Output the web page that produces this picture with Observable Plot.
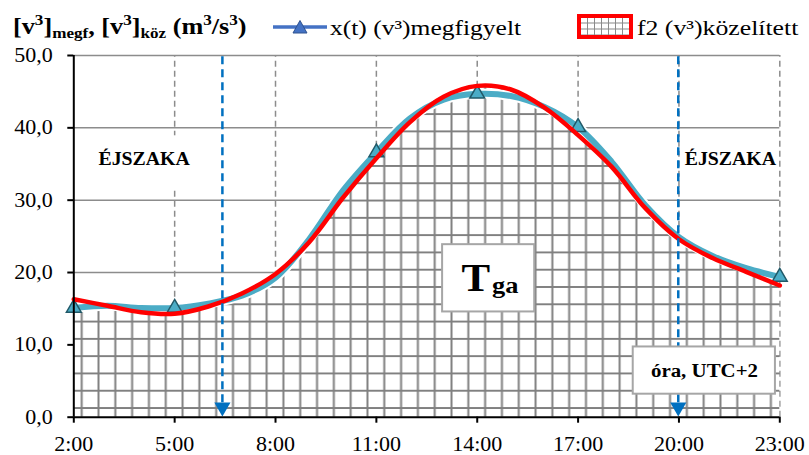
<!DOCTYPE html>
<html><head><meta charset="utf-8">
<script src="https://cdn.jsdelivr.net/npm/d3@7"></script>
<script src="https://cdn.jsdelivr.net/npm/@observablehq/plot@0.6"></script>
<style>
body{margin:0;background:#fff;}
#wrap{position:relative;width:809px;height:455px;overflow:hidden;}
#legend{position:absolute;left:0;top:0;}
</style></head><body>
<div id="wrap"><div id="chart"></div>
<svg id="legend" width="809" height="50" font-family="'Liberation Serif','Times New Roman',serif">
  <defs>
    <pattern id="hatchSmall" patternUnits="userSpaceOnUse" x="577" y="14" width="7" height="6">
      <rect width="7" height="6" fill="white"/>
      <path d="M3.5,0V6M0,3H7" stroke="#8a8a8a" stroke-width="1"/>
    </pattern>
  </defs>
  <g transform="translate(13,34) scale(1.14,1)">
    <text x="0" y="0" font-size="23" font-weight="bold">[v<tspan font-size="15" dy="-9">3</tspan><tspan dy="9">]</tspan><tspan font-size="15" dy="4">megf</tspan><tspan dy="-4">, [v</tspan><tspan font-size="15" dy="-9">3</tspan><tspan dy="9">]</tspan><tspan font-size="15" dy="4">köz</tspan><tspan dy="-4"> (m</tspan><tspan font-size="15" dy="-9">3</tspan><tspan dy="9">/s</tspan><tspan font-size="15" dy="-9">3</tspan><tspan dy="9">)</tspan></text>
  </g>
  <line x1="273" x2="327" y1="27" y2="27" stroke="#4472C4" stroke-width="3.5"/>
  <path d="M300,20.5L307,33L293,33Z" fill="#4472C4" stroke="#2F528F" stroke-width="1"/>
  <g transform="translate(330,35) scale(1.16,1)"><text font-size="22">x(t) (v³)megfigyelt</text></g>
  <rect x="579" y="16" width="52" height="21" fill="url(#hatchSmall)" stroke="#FF0000" stroke-width="4"/>
  <g transform="translate(637,35) scale(1.17,1)"><text font-size="22">f2 (v³)közelített</text></g>
</svg>
</div>
<script>
// ---- data ----
const hours    = [2,3,4,5,6,7,8,9,10,11,12,13,14,15,16,17,18,19,20,21,22,23];
const observed = [15.1,15.4,15.1,15.1,15.7,16.8,19.3,24.6,31.3,36.6,41.3,43.9,44.7,44.4,42.9,40.1,35.3,29.3,24.9,22.3,20.6,19.4];
const approx   = [16.3,15.4,14.5,14.3,15.3,17.1,19.8,24.2,30.3,35.8,40.8,44.3,45.8,45.3,42.8,39.0,34.6,28.9,24.6,22.0,20.1,18.2];
const markerHours = [2,5,11,14,17,23];
const xTicks = [2,5,8,11,14,17,20,23];
const yTicks = [0,10,20,30,40,50];
const dashedHours = [5,8,11,14,17,20,23];
const sunHours = [6.42,19.98];
const nightLabels = [{h:4.09, v:34.8, label:"ÉJSZAKA"},{h:21.53, v:34.8, label:"ÉJSZAKA"}];
const nightBox = [{x1:2.3, x2:5.9, y1:31.4, y2:38.9}];
const tgaBox = [{x1:12.97, x2:15.71, y1:14.55, y2:23.85}];
const tgaMain = [{h:14.38, v:17.4, label:"T"}];
const tgaSub  = [{h:14.38, v:17.1, label:"ga"}];
const unitBox = [{x1:18.64, x2:22.87, y1:3.18, y2:9.71}];
const unitLabel = [{h:20.76, v:6.45, label:"óra, UTC+2"}];

const font = "'Liberation Serif','Times New Roman',serif";
const obs = hours.map((h,i)=>({h, v:observed[i]}));
const apx = hours.map((h,i)=>({h, v:approx[i]}));
const obsMarks = obs.filter(d=>markerHours.includes(d.h));
const arrows = sunHours.map(h=>({h, v:1.4}));
const grey = "#8c8c8c";

const plot = Plot.plot({
  width: 809, height: 455,
  marginLeft: 73.3, marginRight: 29.7, marginTop: 55, marginBottom: 38.3,
  style: {fontFamily: font, background: "white", color: "black"},
  x: {domain: [2,23]},
  y: {domain: [0,50]},
  marks: [
    Plot.ruleY(yTicks.filter(v=>v>0), {stroke: grey, strokeWidth: 1.5}),
    Plot.ruleX(dashedHours, {y1: 0, y2: 50, stroke: grey, strokeWidth: 1.5, strokeDasharray: "6,4"}),
    Plot.rect(nightBox, {x1:"x1", x2:"x2", y1:"y1", y2:"y2", fill:"white"}),
    Plot.areaY(apx, {x:"h", y:"v", curve:"catmull-rom", fill:"url(#hatch)"}),
    Plot.line(obs, {x:"h", y:"v", curve:"catmull-rom", stroke:"white", strokeWidth: 10}),
    Plot.line(obs, {x:"h", y:"v", curve:"catmull-rom", stroke:"#4BACC6", strokeWidth: 6}),
    Plot.dot(obsMarks, {x:"h", y:"v", symbol:"triangle", r:5.5, fill:"#4BACC6", stroke:"#215968", strokeWidth:1.5}),
    Plot.line(apx, {x:"h", y:"v", curve:"catmull-rom", stroke:"#FF0000", strokeWidth: 4.5}),
    Plot.ruleX(sunHours, {y1: 2, y2: 50, stroke:"#0070C0", strokeWidth: 2.5, strokeDasharray:"8,5"}),
    Plot.dot(arrows, {x:"h", y:"v", symbol:"triangle", rotate:180, r:6, fill:"#0070C0"}),
    Plot.rect(tgaBox, {x1:"x1", x2:"x2", y1:"y1", y2:"y2", fill:"white", stroke:"#a6a6a6", strokeWidth:2}),
    Plot.rect(unitBox, {x1:"x1", x2:"x2", y1:"y1", y2:"y2", fill:"white", stroke:"#a6a6a6", strokeWidth:2}),
    Plot.text(nightLabels, {x:"h", y:"v", text:"label", lineAnchor:"bottom", fontSize:18, fontWeight:"bold"}),
    Plot.text(tgaMain, {x:"h", y:"v", text:"label", textAnchor:"end", lineAnchor:"bottom", fontSize:39, fontWeight:"bold"}),
    Plot.text(tgaSub, {x:"h", y:"v", text:"label", textAnchor:"start", dx:2, lineAnchor:"bottom", fontSize:24, fontWeight:"bold"}),
    Plot.text(unitLabel, {x:"h", y:"v", text:"label", fontSize:19, fontWeight:"bold"}),
    Plot.ruleX([2], {y1:0, y2:50, stroke:"black", strokeWidth:2}),
    Plot.ruleY([0], {x1:2, x2:23, stroke:"black", strokeWidth:2}),
    Plot.axisX(xTicks, {tickFormat: d=>d+":00", tickSize:6, tickPadding:14, fontSize:20, strokeWidth:2}),
    Plot.axisY(yTicks, {tickFormat: d=>d.toFixed(1).replace(".", ","), tickSize:6, tickPadding:15, fontSize:20, strokeWidth:2})
  ]
});

// hatch pattern aligned to the scales
const xs = plot.scale("x"), ys = plot.scale("y");
const w = xs.apply(2.5) - xs.apply(2);
const hh = ys.apply(0) - ys.apply(2.39);
const x0 = xs.apply(2.25) - w/2, y0 = ys.apply(1.2) - hh/2;
const ns = "http://www.w3.org/2000/svg";
const defs = document.createElementNS(ns, "defs");
defs.innerHTML = `<pattern id="hatch" patternUnits="userSpaceOnUse" x="${x0}" y="${y0}" width="${w}" height="${hh}"><rect width="${w}" height="${hh}" fill="white"/><path d="M${w/2},0V${hh}M0,${hh/2}H${w}" stroke="#808080" stroke-width="2"/></pattern>`;
plot.prepend(defs);

// widen glyphs slightly like the reference
plot.querySelectorAll("text").forEach(t => {
  const tr = t.getAttribute("transform") || "";
  t.setAttribute("transform", tr + " scale(1.1,1)");
});
document.getElementById("chart").appendChild(plot);
</script>
</body></html>
